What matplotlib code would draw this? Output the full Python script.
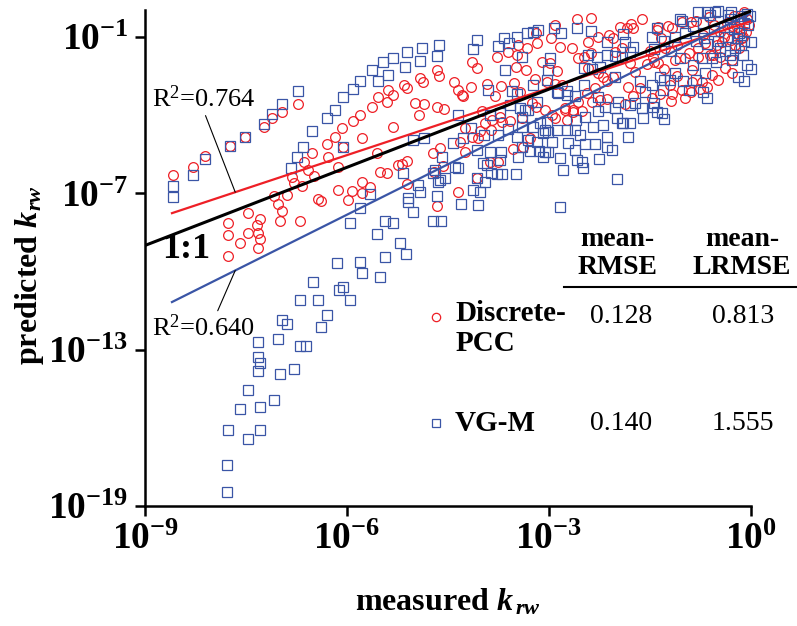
import numpy as np
import matplotlib
matplotlib.use('Agg')
import matplotlib.pyplot as plt
from matplotlib.lines import Line2D
from matplotlib.ticker import NullLocator

plt.rcParams['font.family'] = ['Liberation Serif', 'DejaVu Serif']
plt.rcParams['mathtext.fontset'] = 'custom'
plt.rcParams['mathtext.rm'] = 'Liberation Serif'
plt.rcParams['mathtext.it'] = 'Liberation Serif:italic'
plt.rcParams['mathtext.bf'] = 'Liberation Serif:bold'
plt.rcParams['mathtext.bfit'] = 'Liberation Serif:italic:bold'

# log10 of measured / predicted krw
red_log_meas = [
    -8.58, -8.29, -8.11, -7.74, -7.52, -7.23, -7.11, -6.97, -6.73, -6.07, -6.18, -6.30, -6.52, -6.28,
    -6.13, -6.64, -6.58, -6.49, -6.82, -6.79, -6.67, -6.13, -6.89, -7.08, -7.03, -6.97, -6.43, -6.39,
    -7.47, -7.00, -6.70, -7.29, -7.34, -7.77, -7.47, -7.32, -7.29, -7.77, -7.59, -7.32, -7.77,
    -5.32, -5.39, -5.54, -5.41, -5.63, -5.81, -5.91, -5.78, -5.32, -6.06, -5.55, -5.51, -5.41, -5.78,
    -5.93, -5.78, -5.66, -5.99, -5.24, -5.18, -5.11, -5.11, -5.15, -5.11, -4.99, -4.86, -4.93, -4.92,
    -4.87, -4.66, -4.63, -4.66, -4.56, -4.72, -4.62, -4.71, -4.57, -4.41, -4.35, -4.28, -4.16, -4.14,
    -4.07, -4.00, -3.92, -3.80, -3.71, -3.52, -3.43, -3.77, -3.61, -3.46, -3.33, -3.18, -3.19, -3.48,
    -3.34, -3.49, -3.10, -3.21, -3.19, -3.85, -3.70, -3.58, -3.86, -4.02, -4.05, -4.14, -4.25, -4.25,
    -3.76, -3.88, -3.53, -3.28, -4.07, -4.35, -4.66, -4.32, -3.39, -3.95, -3.73, -3.40, -3.25, -3.06,
    -2.91, -2.76, -2.64, -2.73, -4.29, -2.58, -2.38, -2.97, -2.84, -2.66, -2.42, -2.27, -2.11, -2.05,
    -1.95, -1.84, -1.75, -1.78, -1.62, -1.38, -1.17, -1.34, -1.02, -0.89, -2.99, -2.88, -3.03, -2.91,
    -2.81, -2.57, -2.48, -2.38, -2.42, -2.27, -2.20, -2.14, -2.05, -2.02, -1.92, -1.80, -1.72, -1.54,
    -1.46, -1.38, -1.28, -1.10, -1.83, -1.65, -2.32, -2.44, -2.57, -2.36, -2.24, -2.14, -2.76, -2.64,
    -2.51, -2.96, -1.75, -1.87, -1.47, -1.35, -1.17, -1.20, -1.02, -0.88, -0.73, -0.58, -0.39, -0.28,
    -0.88, -0.98, -0.79, -0.68, -0.56, -0.43, -0.24, -0.13, -1.40, -1.23, -0.82, -0.62, -0.10, -0.28,
    -0.45, -0.71, -1.50, -1.44, -1.29, -1.13, -0.92, -0.79, -0.61, -0.45, -0.12, -0.49, -0.65, -0.76,
    -0.89, -0.97, -1.19, -1.10, -0.18, -0.07, -0.28, -2.91, -0.35, -0.20, -0.05, -0.55, -0.40, -0.15,
    -0.30, -0.50, -0.02, -0.25,
]
red_log_pred = [
    -6.29, -5.98, -5.56, -5.18, -4.83, -4.45, -4.10, -3.87, -3.57, -4.49, -4.83, -5.10, -5.44, -5.60,
    -5.98, -5.79, -6.10, -6.33, -6.37, -6.60, -6.71, -6.86, -7.06, -7.09, -7.40, -7.67, -7.21, -7.29,
    -7.75, -8.05, -8.05, -7.98, -8.21, -8.13, -8.51, -8.51, -8.74, -8.59, -8.90, -9.09, -9.39,
    -3.22, -3.03, -3.30, -3.49, -3.68, -3.99, -4.22, -4.87, -4.45, -5.21, -5.44, -6.17, -6.21, -6.56,
    -6.90, -6.98, -6.75, -7.25, -5.90, -5.87, -5.75, -6.63, -2.84, -2.95, -3.53, -3.57, -3.99, -2.57,
    -2.72, -2.26, -2.49, -3.68, -3.76, -5.44, -5.25, -6.17, -5.94, -2.72, -3.03, -3.26, -2.91, -1.96,
    -2.19, -3.83, -2.80, -3.26, -2.88, -2.76, -3.11, -1.76, -1.57, -1.30, -1.42, -1.23, -0.84, -1.69,
    -2.26, -2.15, -1.96, -2.61, -3.68, -4.18, -4.26, -4.22, -4.56, -4.60, -4.87, -4.83, -4.49, -5.41,
    -5.79, -5.79, -5.29, -4.87, -6.40, -6.94, -7.48, -5.02, -5.21, -4.29, -4.06, -4.10, -3.53, -3.80,
    -4.10, -3.80, -3.80, -4.18, -3.22, -0.31, -0.27, -1.04, -1.38, -1.42, -1.19, -1.00, -0.92, -1.04,
    -0.61, -0.65, -0.65, -0.50, -0.31, -0.61, -0.65, -1.04, -0.42, -0.42, -1.99, -2.30, -2.72, -2.80,
    -2.84, -1.80, -1.76, -1.61, -2.19, -2.38, -2.53, -2.68, -2.53, -1.57, -1.42, -1.99, -2.34, -2.03,
    -1.76, -1.99, -1.42, -1.30, -2.91, -2.95, -2.95, -3.14, -3.49, -3.49, -3.41, -3.37, -3.72, -3.87,
    -3.83, -3.99, -3.26, -3.57, -3.34, -3.18, -3.18, -2.84, -3.03, -2.72, -2.72, -2.45, -2.19, -1.88,
    -2.26, -1.80, -1.42, -1.23, -1.69, -1.19, -1.30, -1.04, -0.73, -0.58, -0.38, -0.23, -0.04, -0.58,
    -0.81, -0.92, -1.53, -1.96, -2.22, -1.88, -1.61, -1.76, -1.69, -1.76, -1.00, -2.65, -2.91, -2.99,
    -3.11, -3.34, -3.45, -2.49, -1.42, -0.81, -2.38, -0.54, -0.45, -0.60, -0.30, -0.55, -1.00, -0.75,
    -1.10, -1.30, -0.55, -0.20,
]

blue_log_meas = [
    -8.58, -8.58, -8.29, -8.11, -7.74, -7.52, -7.23, -7.11, -6.97, -6.73, -6.30, -6.18, -6.52, -6.65,
    -6.74, -6.83, -6.06, -6.06, -5.47, -5.32, -5.63, -5.54, -5.39, -5.81, -5.91, -5.66, -5.81, -5.96,
    -5.44, -5.32, -5.55, -5.21, -5.44, -5.81, -6.15, -5.78, -5.51, -6.51, -6.06, -6.12, -6.43, -6.70,
    -5.96, -6.30, -6.97, -6.89, -6.39, -7.03, -7.32, -6.70, -6.61, -7.32, -7.29, -7.32, -7.00, -6.79,
    -7.47, -7.08, -7.59, -7.29, -7.77, -7.29, -7.47, -7.78, -7.78, -5.12, -5.09, -5.02, -4.72, -4.60,
    -4.31, -4.05, -2.84, -5.14, -5.11, -4.92, -4.89, -4.66, -4.63, -4.07, -4.13, -3.76, -3.67, -3.59,
    -3.48, -3.40, -3.33, -3.24, -3.16, -3.65, -3.91, -3.55, -3.48, -3.24, -3.18, -3.58, -3.43, -3.36,
    -4.35, -4.16, -3.40, -3.61, -5.02, -4.86, -4.43, -4.28, -4.59, -4.35, -4.69, -5.17, -4.65, -4.95,
    -4.92, -5.09, -4.66, -4.07, -3.88, -3.71, -3.98, -3.86, -3.77, -3.70, -3.49, -4.07, -3.95, -4.13,
    -4.02, -3.40, -3.28, -3.15, -3.18, -3.76, -3.97, -2.79, -2.96, -3.02, -3.09, -3.31, -3.09, -2.88,
    -2.73, -2.61, -2.61, -2.58, -3.31, -3.48, -3.40, -3.24, -3.13, -3.03, -3.88, -3.73, -2.73, -2.88,
    -4.62, -4.54, -4.72, -4.40, -3.92, -3.73, -3.46, -2.51, -2.50, -2.26, -1.99, -3.02, -2.72, -2.54,
    -2.35, -2.14, -1.92, -2.14, -1.83, -2.93, -2.82, -2.58, -2.38, -1.90, -2.14, -1.87, -1.47, -1.40,
    -1.05, -0.79, -0.65, -0.53, -0.34, -2.42, -2.29, -2.14, -2.02, -1.92, -1.80, -1.75, -2.99, -3.02,
    -3.03, -2.48, -2.36, -2.24, -2.02, -2.48, -2.73, -2.87, -2.61, -2.27, -1.98, -1.65, -1.47, -1.35,
    -1.20, -1.31, -1.57, -1.72, -1.62, -1.46, -1.32, -1.60, -1.80, -2.02, -2.17, -2.27, -1.99, -1.80,
    -1.90, -2.47, -2.60, -2.20, -3.06, -2.47, -2.32, -2.06, -3.06, -2.84, -0.71, -0.19, -0.06, -0.10,
    -0.73, -0.58, -0.31, -0.04, -0.48, -0.61, -0.31, -0.15, -0.01, -0.71, -0.86, -1.02, -0.97, -1.13,
    -1.29, -1.44, -1.19, -0.82, -0.65, -0.49, -0.34, -0.18, 0.00, 0.00, -0.10, -0.28, -0.52, -0.68,
    -0.82, -1.00, -1.13, -1.29, -1.44, -1.40, -1.29, -0.65, -0.92, -0.24, -0.12, -0.39, -1.05, -0.86,
    -0.40, -0.25, -0.10, -0.55, -0.20, -0.45, -0.70, -0.05, -0.30, -0.15,
]
blue_log_pred = [
    -6.71, -7.13, -6.29, -5.67, -5.18, -4.83, -4.33, -3.95, -3.57, -3.07, -4.10, -3.80, -4.60, -5.21,
    -5.60, -6.02, -5.21, -3.30, -1.96, -1.80, -2.26, -2.68, -2.45, -2.68, -2.99, -7.02, -7.55, -8.13,
    -8.05, -8.13, -8.55, -8.90, -9.43, -9.62, -9.66, -10.05, -10.20, -10.39, -10.58, -10.70, -11.08, -11.08,
    -11.08, -11.69, -11.85, -12.00, -12.15, -12.61, -12.69, -12.88, -12.88, -13.27, -13.50, -13.84, -13.92, -13.73,
    -14.57, -14.95, -15.30, -15.22, -16.07, -16.10, -16.45, -17.45, -18.48, -9.32, -7.32, -7.71, -8.05, -8.05,
    -7.40, -7.44, -7.52, -2.15, -1.57, -1.92, -1.42, -1.73, -1.30, -1.11, -1.46, -1.34, -1.04, -1.23,
    -1.00, -1.76, -0.84, -0.81, -0.73, -2.26, -3.03, -3.07, -3.18, -2.84, -3.49, -3.60, -3.72, -3.80,
    -3.99, -4.49, -4.06, -4.52, -4.95, -4.87, -5.06, -4.87, -5.60, -6.02, -6.10, -6.21, -6.56, -6.67,
    -6.94, -7.17, -7.09, -5.33, -5.41, -5.41, -5.83, -6.21, -6.25, -6.25, -6.25, -6.40, -6.56, -6.86,
    -6.94, -5.21, -5.37, -5.37, -5.02, -4.75, -4.75, -6.10, -5.02, -5.41, -5.60, -4.95, -4.68, -4.56,
    -4.56, -4.56, -5.33, -5.71, -3.80, -4.83, -4.45, -4.45, -4.29, -4.26, -3.99, -3.91, -3.22, -3.11,
    -6.48, -6.40, -6.21, -5.98, -5.90, -5.71, -5.60, -5.79, -6.02, -5.67, -6.44, -4.64, -5.06, -4.75,
    -4.45, -4.83, -4.29, -5.21, -4.83, -0.65, -0.84, -0.65, -0.77, -0.88, -1.19, -1.19, -1.00, -0.65,
    -0.31, -0.04, -0.04, -0.04, -0.15, -1.69, -1.76, -1.69, -1.73, -1.76, -1.57, -1.38, -1.80, -2.26,
    -2.65, -2.19, -2.22, -2.15, -2.53, -2.84, -3.07, -3.14, -3.26, -3.30, -3.49, -2.68, -2.84, -2.53,
    -2.65, -3.03, -3.11, -3.53, -3.72, -3.68, -3.91, -4.10, -3.60, -3.72, -3.68, -3.83, -4.10, -4.29,
    -4.29, -4.06, -4.18, -4.37, -4.56, -5.10, -5.10, -5.33, -5.41, -5.64, -3.11, -2.53, -2.07, -1.15,
    -1.80, -1.80, -1.69, -0.54, 0.00, -0.15, -0.31, -0.19, -0.19, -0.46, -0.58, -0.38, -0.84, -1.00,
    -1.15, -1.46, -1.53, -1.15, -1.27, -1.15, -1.00, -0.84, -1.19, -2.22, -2.68, -1.88, -1.96, -2.38,
    -2.65, -2.68, -2.38, -2.65, -3.53, -3.87, -4.14, -3.34, -3.03, -1.42, -1.69, -1.53, -1.80, -2.07,
    -0.60, -0.70, -0.45, -0.75, -1.05, -1.40, -1.05, -0.10, -0.05, -1.30,
]

# regression lines (log-log), as drawn in the figure
fit_start = -8.6
red_slope, red_icpt, red_r2 = 0.857, -0.39, '0.764'
blue_slope, blue_icpt, blue_r2 = 1.29, -0.08, '0.640'

methods = ['Discrete-\nPCC', 'VG-M']
mean_rmse = ['0.128', '0.140']
mean_lrmse = ['0.813', '1.555']

RED = '#ee1f26'
BLUE = '#3a55a6'

fig = plt.figure(figsize=(7.97, 6.26), dpi=100)
ax = fig.add_axes([0.182, 0.192, 0.760, 0.792])

ax.plot(10**np.array(red_log_meas), 10**np.array(red_log_pred), 'o', mfc='none', mec=RED,
        ms=7, mew=0.9, clip_on=False, zorder=2)
ax.plot(10**np.array(blue_log_meas), 10**np.array(blue_log_pred), 's', mfc='none', mec=BLUE,
        ms=6.5, mew=0.9, clip_on=False, zorder=2)

xs = np.array([fit_start, 0.0])
ax.plot(10**xs, 10**(red_slope*xs + red_icpt), color=RED, lw=1.6, zorder=3)
ax.plot(10**xs, 10**(blue_slope*xs + blue_icpt), color=BLUE, lw=1.6, zorder=3)
ax.plot([1e-9, 1], [1e-9, 1], color='k', lw=2.2, zorder=4)

ax.set_xscale('log')
ax.set_yscale('log')
ax.set_xlim(1e-9, 1)
ax.set_ylim(1e-19, 1.1)

xt = [-9, -6, -3, 0]
yt = [-19, -13, -7, -1]
ax.set_xticks([10.0**v for v in xt])
ax.set_xticklabels([r'$\mathbf{10^{%d}}$' % v for v in xt])
ax.set_yticks([10.0**v for v in yt])
ax.set_yticklabels([r'$\mathbf{10^{%d}}$' % v for v in yt])
ax.xaxis.set_minor_locator(NullLocator())
ax.yaxis.set_minor_locator(NullLocator())
ax.tick_params(direction='out', length=7, width=1.8, labelsize=27)
ax.tick_params(axis='y', pad=5)
ax.tick_params(axis='x', pad=5)

for s in ['top', 'right']:
    ax.spines[s].set_visible(False)
for s in ['left', 'bottom']:
    ax.spines[s].set_linewidth(1.8)

ax.set_xlabel(r'measured $\mathbfit{k}_{\,\mathbfit{rw}}$', fontsize=23, fontweight='bold')
ax.set_ylabel(r'predicted $\mathbfit{k_{rw}}$', fontsize=23, fontweight='bold')
ax.xaxis.label.set_va('center')
ax.yaxis.label.set_va('center')
ax.xaxis.set_label_coords(0.5, -0.195)
ax.yaxis.set_label_coords(-0.19, 0.465)

# R^2 labels with leader lines
ann_x = -7.66
ax.annotate(r'R$^{\mathregular{2}}$=' + red_r2,
            xy=(10**ann_x, 10**(red_slope*ann_x + red_icpt)),
            xytext=(0.191, 0.843), textcoords='figure fraction', ha='left', va='center',
            fontsize=19, arrowprops=dict(arrowstyle='-', color='k', lw=0.8,
                                         shrinkA=1, shrinkB=0, relpos=(0.5, 0)))
ax.annotate(r'R$^{\mathregular{2}}$=' + blue_r2,
            xy=(10**ann_x, 10**(blue_slope*ann_x + blue_icpt)),
            xytext=(0.191, 0.476), textcoords='figure fraction', ha='left', va='center',
            fontsize=19, arrowprops=dict(arrowstyle='-', color='k', lw=0.8,
                                         shrinkA=1, shrinkB=0, relpos=(0.62, 1)))
fig.text(0.233, 0.602, '1:1', fontsize=26, fontweight='bold', ha='center', va='center')

# table of scores
fig.text(0.775, 0.595, 'mean-\nRMSE', ha='center', va='center', fontsize=20,
         fontweight='bold', linespacing=1.15)
fig.text(0.931, 0.595, 'mean-\nLRMSE', ha='center', va='center', fontsize=20,
         fontweight='bold', linespacing=1.15)
fig.add_artist(Line2D([0.708, 1.0], [0.5415, 0.5415], transform=fig.transFigure,
                      color='k', lw=1.5))

row_y = [0.494, 0.324]
row_marker = [('o', RED), ('s', BLUE)]
for i, name in enumerate(methods):
    y = row_y[i]
    mk, col = row_marker[i]
    fig.add_artist(Line2D([0.547], [y], transform=fig.transFigure, marker=mk, ls='none',
                          mfc='none', mec=col, ms=6, mew=0.9))
    if '\n' in name:
        fig.text(0.571, y + 0.027, name, ha='left', va='top', fontsize=21,
                 fontweight='bold', linespacing=1.15)
    else:
        fig.text(0.571, y, name, ha='left', va='center', fontsize=21, fontweight='bold')
    fig.text(0.779, y, mean_rmse[i], ha='center', va='center', fontsize=20)
    fig.text(0.932, y, mean_lrmse[i], ha='center', va='center', fontsize=20)

fig.savefig('out.png', dpi=100)
